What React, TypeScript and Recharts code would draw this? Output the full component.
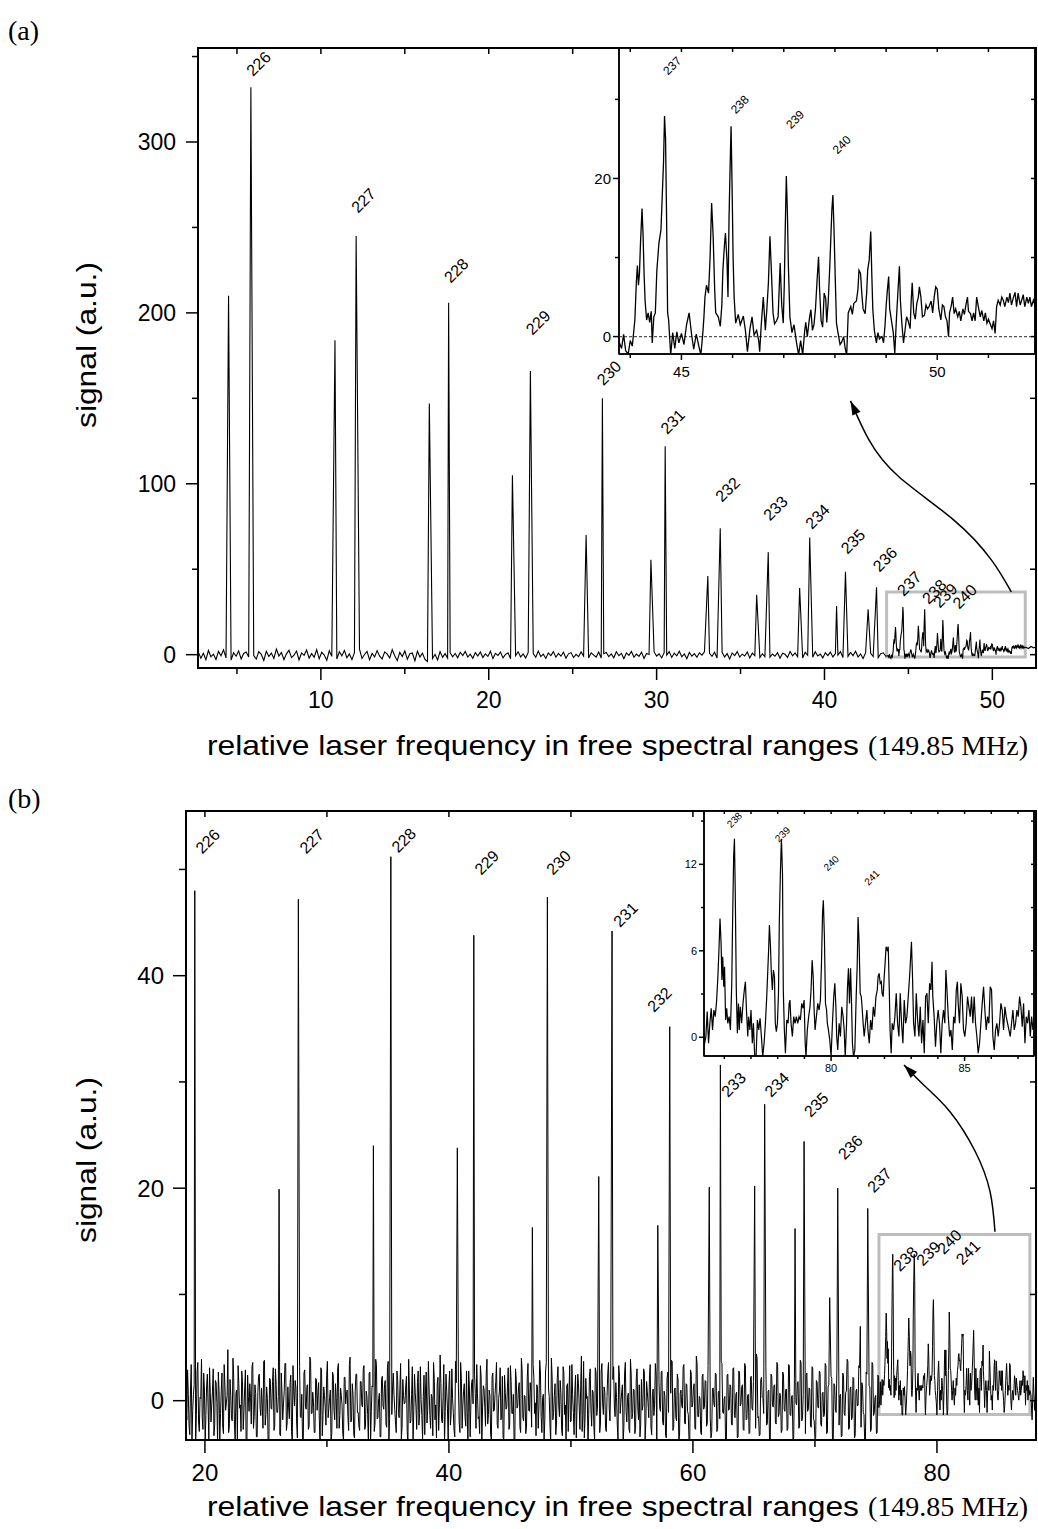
import React from 'react';
import { ComposedChart, Line, XAxis, YAxis, ReferenceArea, ReferenceDot, ReferenceLine } from 'recharts';

const SANS = '"Liberation Sans", Arial, Helvetica, sans-serif';
const SERIF = '"Liberation Serif", "Times New Roman", serif';

// ---------------- panel (a) data ----------------
const aNoiseStart = 2.7;
const aNoiseStep = 0.15;
const aNoise = [
  1.5,-2.1,0.8,-3.0,2.4,-1.2,0.3,-2.8,1.9,-0.6,2.8,-1.9,0.4,-3.2,1.1,-0.9,2.2,-2.5,0.7,1.6,
  -1.4,3.1,-0.5,-2.6,1.8,0.2,-3.4,2.0,-1.1,0.9,-2.2,3.3,-0.8,1.3,-2.9,0.5,2.6,-1.7,-0.3,2.1,
  -3.1,1.0,-0.4,2.7,-2.0,0.6,-1.5,3.0,-2.4,1.4,-0.2,-3.3,2.3,-1.0,0.8,-2.6,1.7,-0.7,2.5,-1.8,
  0.4,-2.9,1.2,-0.5,3.2,-2.2,0.1,1.9,-3.0,0.7,-1.3,2.4,-0.9,-2.5,1.6,0.3,-1.9,2.9,-0.6,-3.5,
  1.3,-1.1,2.2,-2.7,0.5,1.0,-3.6,2.0,-1.4,0.9,-2.8,-4.0,1.5,-2.3,0.2,-3.1,1.8,-1.6,0.6,-2.0,
  1.1,-1.2,0.7,-1.8,1.4,-0.5,1.9,-1.4,0.3,-2.1,1.2,-0.8,1.6,-1.7,0.5,-1.0,2.0,-2.3,0.8,-0.4,
  1.5,-1.9,0.2,1.1,-2.4,0.9,-0.6,1.7,-1.3,0.4,-2.0,1.3,-0.7,0.6,-1.6,2.1,-1.1,0.3,-2.2,1.0,
  -0.5,1.8,-1.5,0.7,-0.9,1.4,-2.1,0.5,1.2,-1.7,0.2,-1.2,1.6,-0.8,0.9,-1.9,1.1,-0.3,-1.4,1.5,
  -2.0,0.6,1.3,-1.1,0.4,-1.8,1.7,-0.6,0.8,-2.3,1.0,-0.4,1.9,-1.5,0.3,-1.0,1.4,-2.2,0.7,0.1,
  -1.3,1.6,-0.8,0.5,-1.9,1.2,-0.2,1.8,-1.6,0.9,-0.7,2.0,-1.2,0.4,-2.4,1.3,-0.9,0.6,-1.5,1.1,
  -0.3,1.7,-1.8,0.8,-1.0,1.5,-2.0,0.2,1.4,-1.3,0.6,-2.5,1.0,-0.5,1.8,-1.4,0.3,-0.8,1.6,-1.9,
  0.9,-0.6,1.3,-1.7,0.5,-1.1,2.2,-1.5,0.4,-0.9,1.2,-2.1,0.8,0.2,-1.6,1.9,-0.7,1.0,-1.2,0.6,
  -2.0,1.4,-0.4,0.9,-1.5,1.7,-0.8,0.3,-1.9,1.1,-0.5,1.5,-1.3,0.7,-0.2,1.8,-1.7,0.5,-1.0,1.3,
  -0.6,2.0,-1.4,0.4,-2.2,1.2,-0.3,0.8,-1.1,1.6,-1.8,0.6,1.1,-0.9,0.2,-1.5,1.9,-0.7,0.9,-1.3,
];
const aPeaks: [number, number][] = [
  [4.50, 210], [5.83, 332], [10.84, 184], [12.10, 245], [16.46, 147], [17.61, 206],
  [21.41, 105], [22.48, 166], [25.80, 70], [26.77, 150], [29.66, 55.5], [30.51, 122],
  [33.05, 46], [33.79, 74], [35.96, 35], [36.65, 60], [38.52, 39], [39.12, 68.5],
  [40.72, 28.5], [41.25, 48.5], [42.60, 26.5], [43.10, 39.5],
];
const aInset: [number, number][] = [
  [43.78,-0.6],[43.83,-1.5],[43.87,0.3],[43.91,-1.8],[43.96,-2.2],[44.00,-0.5],[44.04,-1.2],[44.09,2.1],[44.12,7.0],[44.14,9.0],
  [44.16,6.5],[44.18,8.0],[44.20,11.8],[44.23,16.2],[44.25,12.9],[44.27,8.0],[44.29,4.5],[44.32,2.1],[44.35,3.0],[44.38,1.8],
  [44.41,3.2],[44.43,-0.8],[44.46,2.5],[44.49,3.0],[44.52,8.4],[44.56,11.8],[44.60,13.5],[44.62,16.9],[44.65,22.0],[44.67,27.9],
  [44.69,25.0],[44.71,15.0],[44.73,3.0],[44.75,2.1],[44.79,-2.3],[44.83,0.5],[44.87,-1.5],[44.91,0.6],[44.95,-0.8],[45.00,0.4],
  [45.05,-1.0],[45.10,1.5],[45.15,3.0],[45.20,0.2],[45.24,-1.6],[45.29,0.3],[45.34,-1.2],[45.38,-2.3],[45.42,0.6],[45.44,2.5],
  [45.46,5.0],[45.49,6.5],[45.53,5.5],[45.56,10.0],[45.59,16.9],[45.62,12.7],[45.65,6.0],[45.67,3.0],[45.72,2.5],[45.76,1.3],
  [45.79,4.0],[45.81,8.4],[45.84,11.5],[45.86,13.1],[45.89,9.7],[45.91,5.0],[45.93,14.8],[45.95,21.0],[45.97,26.6],[45.99,19.0],
  [46.01,10.0],[46.03,5.0],[46.06,1.7],[46.11,2.8],[46.15,1.5],[46.21,2.6],[46.25,0.8],[46.29,-1.9],[46.34,1.0],[46.38,2.5],
  [46.42,0.2],[46.47,0.8],[46.51,-0.5],[46.53,-1.9],[46.56,1.5],[46.60,5.0],[46.64,0.8],[46.67,3.5],[46.70,6.8],[46.73,12.7],
  [46.76,8.0],[46.79,3.0],[46.82,1.6],[46.86,2.0],[46.89,2.5],[46.91,6.0],[46.93,9.3],[46.96,4.0],[46.99,1.7],[47.01,6.5],
  [47.03,14.0],[47.05,20.3],[47.07,16.0],[47.09,9.0],[47.12,2.5],[47.16,0.5],[47.20,1.5],[47.25,-0.8],[47.29,-2.3],[47.33,-0.5],
  [47.37,-2.3],[47.41,0.8],[47.43,1.8],[47.46,0.0],[47.50,2.2],[47.53,3.4],[47.56,0.8],[47.59,1.5],[47.62,3.5],[47.65,7.0],
  [47.68,10.1],[47.70,6.0],[47.73,2.0],[47.76,1.2],[47.79,5.5],[47.82,4.8],[47.84,1.8],[47.87,4.5],[47.90,9.0],[47.92,12.5],
  [47.94,16.0],[47.96,17.9],[47.98,14.0],[48.01,6.5],[48.03,1.7],[48.06,0.5],[48.10,-1.0],[48.13,-0.7],[48.17,0.0],[48.20,-1.5],
  [48.23,-2.3],[48.26,3.0],[48.31,3.8],[48.34,2.8],[48.37,4.2],[48.42,4.5],[48.45,6.0],[48.47,8.4],[48.50,8.0],[48.53,5.0],
  [48.55,3.5],[48.59,2.9],[48.62,5.5],[48.64,8.4],[48.67,9.7],[48.70,13.3],[48.72,8.0],[48.74,3.5],[48.77,0.8],[48.81,-0.8],
  [48.84,0.5],[48.87,-0.3],[48.92,0.0],[48.95,-0.8],[48.98,1.5],[49.00,3.8],[49.02,5.5],[49.05,7.6],[49.07,3.5],[49.11,1.8],
  [49.14,0.5],[49.17,-2.1],[49.20,2.0],[49.23,5.5],[49.26,8.9],[49.28,4.5],[49.31,1.5],[49.34,-0.8],[49.37,0.8],[49.40,2.5],
  [49.43,2.0],[49.47,1.0],[49.49,4.5],[49.51,6.8],[49.54,3.0],[49.57,2.2],[49.60,4.2],[49.63,5.0],[49.65,6.3],[49.68,5.0],
  [49.71,2.5],[49.75,2.7],[49.78,4.0],[49.81,3.5],[49.84,3.8],[49.88,4.5],[49.91,3.0],[49.94,5.0],[49.97,6.3],[50.00,6.0],
  [50.03,3.5],[50.07,2.1],[50.10,4.0],[50.13,3.8],[50.16,2.5],[50.19,2.0],[50.22,0.0],[50.24,3.0],[50.27,3.8],[50.30,5.0],
  [50.33,2.9],[50.36,3.5],[50.40,2.5],[50.43,3.2],[50.46,2.0],[50.50,3.5],[50.53,2.8],[50.56,4.0],[50.59,5.0],[50.61,3.2],
  [50.65,2.9],[50.68,2.0],[50.71,3.0],[50.74,2.0],[50.77,5.0],[50.81,3.5],[50.84,2.5],[50.87,3.3],[50.91,2.0],[50.94,3.0],
  [50.97,1.7],[51.00,2.2],[51.04,1.5],[51.07,1.0],[51.10,2.0],[51.13,0.4],[51.16,3.8],[51.19,4.6],[51.23,4.0],[51.26,5.0],
  [51.29,4.6],[51.32,3.8],[51.36,5.0],[51.39,4.3],[51.42,5.5],[51.45,4.0],[51.49,5.0],[51.52,5.6],[51.55,3.8],[51.58,5.5],
  [51.62,4.0],[51.65,4.6],[51.68,5.3],[51.71,3.8],[51.75,5.0],[51.78,4.2],[51.81,5.0],[51.84,3.8],[51.88,4.6],[51.91,4.0],
];
const aTail: [number, number][] = [[52.0, 4.3], [52.15, 3.6], [52.3, 4.8], [52.45, 4.0], [52.6, 4.5]];
const aLabels = [
  { x: 5.96, y: 338, t: '226' }, { x: 12.21, y: 258, t: '227' }, { x: 17.73, y: 217, t: '228' },
  { x: 22.61, y: 186.6, t: '229' }, { x: 26.83, y: 157, t: '230' }, { x: 30.63, y: 128.6, t: '231' },
  { x: 33.90, y: 88.9, t: '232' }, { x: 36.75, y: 77.9, t: '233' }, { x: 39.25, y: 73, t: '234' },
  { x: 41.37, y: 58.4, t: '235' }, { x: 43.27, y: 48, t: '236' }, { x: 44.72, y: 33.8, t: '237' },
  { x: 46.21, y: 29.1, t: '238' }, { x: 46.86, y: 26.8, t: '239' }, { x: 48.03, y: 26.3, t: '240' },
];
const aInsetLabels = [
  { x: 44.74, y: 33.0, t: '237' }, { x: 46.06, y: 28.1, t: '238' },
  { x: 47.14, y: 26.2, t: '239' }, { x: 48.05, y: 23.0, t: '240' },
];
const aArrow = [
  { x: 51.13, y: 36.7 }, { x: 49.94, y: 55.5 }, { x: 47.69, y: 78.9 },
  { x: 44.43, y: 104.1 }, { x: 42.64, y: 125.8 }, { x: 41.55, y: 148.5 },
];
const aBox = { x1: 43.7, x2: 51.96, y1: -1.35, y2: 36.7 };
const aDomX: [number, number] = [2.68, 52.6];
const aDomY: [number, number] = [-7.8, 355];
const aTicksX = [5, 10, 15, 20, 25, 30, 35, 40, 45, 50];
const aMajorX = [10, 20, 30, 40, 50];
const aTicksY = [0, 50, 100, 150, 200, 250, 300, 350];
const aMajorY = [0, 100, 200, 300];
const aInDomX: [number, number] = [43.78, 51.91];
const aInDomY: [number, number] = [-2.2, 36.5];
const aInTicksX = [44, 45, 46, 47, 48, 49, 50, 51];
const aInMajorX = [45, 50];
const aInTicksY = [0, 10, 20, 30];
const aInMajorY = [0, 20];

// ---------------- panel (b) data ----------------
const bNoiseStart = 18.4;
const bNoiseStep = 0.12;
const bNoise = [
  2.1,-1.8,0.6,-3.2,3.4,-0.9,1.5,-4.2,2.8,-2.0,0.3,3.9,-2.7,1.1,-1.4,2.5,-3.6,0.8,-0.4,3.0,-2.3,1.7,-4.0,0.9,
  -1.2,2.6,-3.1,1.4,-0.2,4.8,-2.5,0.5,-1.9,2.2,-3.8,1.0,3.3,-0.7,-2.9,1.8,-1.0,2.9,-4.1,0.4,1.6,-2.2,3.6,-1.5,
  0.7,-3.4,2.3,-0.6,1.2,-2.6,3.8,-1.3,0.2,-4.3,2.0,-0.8,3.1,-2.4,1.5,-1.1,2.7,-3.3,0.6,-0.3,3.5,-2.8,1.3,-1.7,
  2.4,-3.9,0.9,1.9,-2.1,0.1,3.2,-1.6,-3.5,2.6,-0.5,1.4,-2.7,4.1,-1.2,0.8,-3.0,2.1,-0.9,1.7,-4.4,2.9,-1.4,0.5,
  -2.3,3.7,-0.7,1.0,-3.1,2.4,-1.8,0.3,3.0,-2.6,1.2,-0.4,-3.7,2.2,0.6,-1.5,3.4,-2.0,1.6,-3.2,0.9,2.5,-1.1,-2.8,
  1.8,-0.6,3.3,-2.4,0.4,-4.0,2.7,-1.0,1.3,-2.9,3.9,-1.7,0.2,-3.4,2.0,-0.5,1.5,-2.2,3.1,-3.8,0.7,-1.3,2.6,-0.8,
  -3.0,1.9,-1.6,3.5,-2.5,0.5,-0.2,2.3,-4.1,1.1,-1.9,3.2,-0.9,0.8,-2.7,2.8,-1.2,0.1,-3.6,2.4,1.0,-2.1,3.7,-1.4,
  0.6,-3.3,2.1,-0.4,1.6,-2.8,4.3,-1.8,0.3,-3.9,2.5,-0.7,1.4,-2.3,3.0,-1.1,-3.4,1.7,0.4,-2.0,3.6,-2.6,0.9,-1.5,
  2.8,-4.2,1.2,-0.3,2.0,-2.9,0.7,3.4,-1.7,-3.1,2.3,-0.6,1.1,-2.4,3.9,-1.3,0.5,-3.7,2.6,-0.9,1.8,-2.2,0.2,3.1,
  -1.6,-3.5,2.4,-0.8,1.3,-2.7,3.3,-1.2,0.6,-4.0,2.0,-0.5,1.7,-3.0,2.9,-1.9,0.4,-2.5,3.5,-1.0,0.8,-3.3,2.2,-0.2,
  1.5,-2.6,3.8,-1.5,0.3,-3.8,2.7,-0.7,1.2,-2.1,4.0,-1.8,0.5,-3.2,2.1,-0.4,1.9,-2.8,3.2,-1.3,-3.6,1.6,0.7,-2.0,
  3.4,-1.1,0.9,-3.5,2.5,-0.6,1.4,-2.9,3.7,-1.6,0.2,-4.1,2.3,-0.8,1.0,-2.4,3.1,-1.4,0.6,-3.0,2.8,-0.3,1.3,-2.6,
  0.4,3.6,-1.9,-3.4,2.0,-0.5,1.7,-2.3,3.3,-1.2,0.8,-3.9,2.6,-1.0,0.3,-2.7,3.9,-1.7,1.1,-3.1,2.2,-0.6,1.5,-2.2,
  -0.9,3.0,-3.6,1.8,-0.2,2.4,-2.5,0.6,-1.4,3.5,-4.0,1.3,-0.7,2.7,-2.0,0.9,-3.3,2.1,-1.1,0.5,3.8,-2.8,1.0,-1.6,
  2.5,-3.7,0.7,-0.4,3.2,-2.1,1.6,-1.0,-3.8,2.9,-0.6,1.2,-2.6,4.2,-1.5,0.4,-3.0,2.3,-0.8,1.9,-2.4,3.3,-1.3,-3.5,
  1.1,-0.3,2.6,-2.9,0.8,-1.7,3.7,-1.1,0.2,-4.2,2.4,-0.9,1.5,-2.2,3.0,-1.4,0.6,-3.5,2.8,-0.5,1.3,-2.7,3.5,-1.8,
  0.5,-3.1,2.2,-0.7,1.8,-2.5,4.4,-1.6,-3.3,2.0,0.3,-1.2,3.1,-2.3,0.9,-3.9,2.5,-0.4,1.4,-2.0,3.6,-1.5,0.7,-3.0,
  2.7,-0.8,1.0,-2.8,3.4,-1.3,0.4,-3.7,2.1,-0.2,1.7,-2.6,3.8,-1.9,0.6,-3.2,2.4,-1.0,1.2,-2.4,3.2,-1.7,-3.6,1.9,
  -0.6,2.8,-2.2,0.7,-1.5,3.5,-3.1,1.3,-0.3,2.3,-4.0,1.6,-0.9,2.9,-2.1,0.5,-3.4,2.6,-1.2,0.8,3.9,-2.7,1.1,-1.8,
  2.2,-3.5,0.9,-0.5,3.3,-2.4,1.7,-1.1,-3.9,2.7,-0.4,1.4,-2.9,3.6,-1.4,0.3,-3.1,2.4,-0.7,2.0,-2.3,3.0,-1.6,-3.3,
];
const bNoise2Start = 18.46;
const bNoise2 = [
  -0.8,2.9,-2.4,1.1,-3.7,0.6,2.2,-1.3,3.6,-2.9,0.2,-1.6,2.6,-4.0,1.4,-0.5,3.1,-2.0,0.9,-3.3,1.9,-0.2,2.7,-3.8,
  1.0,-2.5,3.4,-0.9,0.5,-3.0,2.0,-1.7,4.0,-2.2,0.7,-3.6,1.6,-0.4,2.8,-2.7,1.2,-4.1,2.4,-1.0,0.3,3.2,-2.6,1.5,
  -3.4,0.8,2.5,-1.4,-0.3,3.7,-2.3,1.3,-3.9,2.1,-0.7,1.8,-2.8,3.0,-1.1,0.4,-3.2,2.6,-1.8,0.9,3.5,-2.1,-0.6,1.7,
  -2.9,3.3,-0.5,1.2,-3.5,2.3,-1.5,0.6,-4.2,2.9,-0.8,1.5,-2.4,3.8,-1.2,-0.2,-3.0,2.0,0.8,-1.9,3.1,-3.3,1.3,-0.6,
  2.4,-1.6,0.3,-3.8,2.7,-0.9,1.6,-2.6,3.5,-1.4,0.5,-3.1,2.2,-0.3,1.0,-2.8,4.1,-1.9,0.6,-3.5,2.5,-1.1,-2.4,1.8,
  -0.4,3.0,-2.7,0.9,-1.3,2.6,-3.9,1.4,0.2,-2.2,3.4,-1.6,0.7,-3.4,2.3,-0.8,1.9,-2.5,3.7,-1.7,-3.1,1.2,0.5,-2.0,
  2.8,-1.2,1.1,-3.6,2.0,-0.3,1.4,-2.9,3.9,-2.1,0.6,-4.0,2.5,-0.6,1.7,-2.3,3.2,-1.4,0.4,-3.2,2.7,-0.9,1.0,-2.6,
  0.3,3.6,-1.8,-3.5,2.2,-0.4,1.6,-2.1,3.4,-1.0,0.9,-3.8,2.8,-1.3,0.2,-2.8,3.7,-1.6,1.2,-3.0,2.1,-0.5,1.6,-2.4,
  -1.1,2.8,-3.4,1.7,-0.3,2.5,-2.6,0.7,-1.5,3.3,-4.1,1.4,-0.6,2.6,-2.2,1.0,-3.2,2.3,-1.0,0.6,3.6,-2.6,0.9,-1.8,
  2.3,-3.6,0.8,-0.6,3.1,-2.3,1.8,-1.2,-3.7,3.0,-0.7,1.1,-2.5,4.0,-1.6,0.5,-3.1,2.2,-0.9,1.7,-2.5,3.4,-1.2,-3.3,
  1.3,-0.5,2.7,-3.0,0.6,-1.8,3.6,-1.0,0.4,-4.0,2.2,-1.1,1.6,-2.1,3.2,-1.5,0.7,-3.3,2.6,-0.4,1.4,-2.9,3.3,-1.9,
  0.6,-3.2,2.4,-0.6,1.6,-2.7,4.2,-1.4,-3.5,2.1,0.4,-1.3,3.0,-2.4,0.8,-3.7,2.6,-0.5,1.3,-2.2,3.5,-1.3,0.8,-2.9,
  2.6,-0.7,1.2,-2.9,3.2,-1.5,0.3,-3.6,2.3,-0.1,1.5,-2.5,3.6,-2.0,0.7,-3.0,2.5,-1.2,1.0,-2.6,3.0,-1.8,-3.4,2.0,
  -0.5,2.7,-2.1,0.9,-1.6,3.4,-3.2,1.1,-0.4,2.4,-3.8,1.7,-1.0,2.8,-2.3,0.4,-3.5,2.7,-1.3,0.7,3.7,-2.5,1.2,-1.9,
  2.0,-3.4,1.0,-0.7,3.4,-2.2,1.5,-1.3,-3.8,2.6,-0.3,1.6,-2.7,3.5,-1.5,0.2,-3.2,2.5,-0.6,1.8,-2.1,3.1,-1.7,-3.0,
  1.2,-0.6,2.5,-2.7,0.9,-1.9,3.5,-1.2,0.4,-4.1,2.5,-0.8,1.3,-2.3,3.1,-1.6,0.8,-3.4,2.6,-0.3,1.5,-2.8,3.3,-1.7,
  0.6,-3.0,2.3,-0.9,1.6,-2.6,4.0,-1.5,-3.2,2.2,0.2,-1.4,3.2,-2.1,1.0,-3.7,2.3,-0.6,1.5,-2.2,3.4,-1.3,0.5,-2.8,
  2.5,-1.0,1.1,-2.6,3.3,-1.4,0.5,-3.5,2.0,-0.4,1.8,-2.4,3.6,-1.7,0.4,-3.1,2.6,-0.8,1.1,-2.5,3.1,-1.9,-3.5,1.7,
  -0.7,2.6,-2.4,0.8,-1.3,3.3,-3.0,1.5,-0.2,2.1,-3.9,1.4,-1.1,2.7,-2.3,0.6,-3.3,2.4,-1.4,0.9,3.7,-2.6,1.3,-1.6,
  2.1,-3.3,1.1,-0.4,3.1,-2.5,1.5,-1.3,-3.7,2.5,-0.6,1.3,-2.7,3.4,-1.2,0.5,-3.0,2.2,-0.8,1.8,-2.4,2.9,-1.5,-3.1,
];
const bPeaks: [number, number][] = [
  [19.17, 48.0], [26.08, 19.9], [27.66, 47.2], [33.81, 24.0], [35.24, 51.2], [40.69, 23.8],
  [42.04, 43.8], [46.84, 16.3], [48.07, 47.4], [52.28, 21.1], [53.37, 44.2], [57.12, 16.5],
  [58.10, 35.2], [61.34, 20.1], [62.25, 31.6], [65.06, 20.2], [65.88, 27.9], [68.37, 16.2],
  [69.11, 24.4], [71.21, 9.7], [71.87, 20.0], [73.72, 7.0], [74.33, 18.1],
];
const bInset: [number, number][] = [
  [75.24,-0.65],[75.31,0.05],[75.36,1.78],[75.41,-0.42],[75.46,0.97],[75.51,2.01],[75.56,0.51],[75.61,1.89],[75.66,1.43],[75.71,2.47],
  [75.76,4.2],[75.80,6.05],[75.84,8.24],[75.88,6.51],[75.91,3.97],[75.94,5.58],[75.98,3.51],[76.01,4.89],[76.05,1.2],[76.09,2.01],
  [76.13,0.97],[76.18,1.43],[76.23,0.51],[76.28,3.74],[76.31,7.89],[76.35,12.5],[76.38,13.78],[76.41,10.2],[76.45,3.28],[76.49,0.28],
  [76.53,2.35],[76.56,0.51],[76.60,2.12],[76.65,0.97],[76.70,2.35],[76.75,3.28],[76.79,3.85],[76.83,1.89],[76.88,0.05],[76.91,1.43],
  [76.96,0.51],[77.00,1.89],[77.05,-0.42],[77.09,0.97],[77.14,-1.34],[77.19,-1.34],[77.24,1.2],[77.29,0.51],[77.34,1.32],[77.39,0.05],
  [77.44,-1.34],[77.49,-0.42],[77.54,0.97],[77.59,2.82],[77.63,4.66],[77.66,6.05],[77.69,7.78],[77.73,6.28],[77.76,4.55],[77.80,3.28],
  [77.84,4.66],[77.88,4.2],[77.91,0.97],[77.95,0.39],[77.99,0.97],[78.03,3.05],[78.06,7.89],[78.10,11.35],[78.14,13.78],[78.18,11.35],
  [78.21,3.28],[78.25,0.51],[78.29,-1.11],[78.34,1.2],[78.39,0.97],[78.43,2.35],[78.46,2.58],[78.50,0.97],[78.55,0.05],[78.60,1.43],
  [78.65,0.97],[78.70,1.43],[78.75,0.97],[78.80,1.43],[78.85,1.2],[78.90,2.35],[78.95,2.01],[78.99,2.58],[79.03,-0.42],[79.06,-1.34],
  [79.11,0.51],[79.16,1.43],[79.21,2.12],[79.25,3.28],[79.29,5.35],[79.33,4.2],[79.36,2.12],[79.40,0.51],[79.45,1.43],[79.50,2.35],
  [79.55,1.89],[79.60,2.58],[79.64,5.12],[79.68,8.59],[79.71,9.51],[79.75,6.97],[79.79,2.35],[79.83,1.89],[79.86,0.97],[79.90,0.51],
  [79.95,-0.18],[80.00,-1.34],[80.05,0.97],[80.10,2.82],[80.14,3.74],[80.18,2.12],[80.21,0.05],[80.25,-0.88],[80.30,0.97],[80.35,0.05],
  [80.40,2.12],[80.45,1.43],[80.49,0.51],[80.53,-1.34],[80.58,0.97],[80.61,3.28],[80.65,4.78],[80.69,2.35],[80.73,4.78],[80.76,2.82],
  [80.80,-0.42],[80.84,-1.34],[80.89,-0.88],[80.94,2.82],[80.98,5.12],[81.01,8.35],[81.05,6.51],[81.09,3.05],[81.13,2.82],[81.16,2.12],
  [81.20,0.97],[81.24,0.05],[81.29,0.97],[81.34,1.89],[81.38,0.51],[81.43,-0.42],[81.48,1.2],[81.53,0.51],[81.58,2.12],[81.63,1.43],
  [81.68,2.82],[81.73,3.28],[81.76,4.2],[81.80,4.43],[81.84,3.74],[81.88,3.85],[81.91,3.05],[81.95,2.82],[81.99,4.2],[82.03,5.35],
  [82.06,6.28],[82.10,6.05],[82.14,6.28],[82.18,3.28],[82.21,0.51],[82.25,-1.11],[82.29,0.97],[82.34,0.51],[82.39,1.43],[82.44,3.05],
  [82.49,0.97],[82.54,0.05],[82.59,3.05],[82.64,0.97],[82.69,-0.42],[82.74,2.58],[82.79,0.97],[82.84,1.43],[82.89,2.82],[82.94,4.2],
  [82.98,5.58],[83.01,6.62],[83.05,4.2],[83.09,0.97],[83.14,0.05],[83.19,3.05],[83.24,1.2],[83.29,0.05],[83.34,2.12],[83.39,-0.42],
  [83.44,1.2],[83.49,-1.11],[83.54,2.82],[83.59,3.05],[83.64,0.97],[83.69,3.74],[83.74,3.28],[83.78,5.24],[83.81,2.82],[83.86,1.43],
  [83.91,-0.65],[83.96,0.97],[84.01,1.89],[84.06,0.97],[84.11,-1.11],[84.16,0.97],[84.21,1.89],[84.26,0.97],[84.30,4.66],[84.34,3.28],
  [84.39,1.43],[84.44,0.05],[84.49,0.51],[84.54,-0.88],[84.59,1.43],[84.64,0.97],[84.69,3.28],[84.73,3.85],[84.76,2.35],[84.81,0.97],
  [84.86,3.74],[84.91,2.82],[84.96,0.51],[85.01,0.05],[85.06,0.97],[85.11,2.82],[85.16,2.12],[85.21,1.43],[85.26,2.82],[85.31,0.97],
  [85.36,2.82],[85.41,0.97],[85.46,0.05],[85.51,-1.11],[85.56,-0.42],[85.61,0.97],[85.66,2.35],[85.71,3.51],[85.76,1.89],[85.81,0.51],
  [85.86,1.43],[85.91,0.97],[85.96,3.51],[86.01,3.28],[86.06,0.05],[86.11,-0.88],[86.16,0.51],[86.21,0.97],[86.26,0.05],[86.31,0.97],
  [86.36,2.35],[86.41,1.89],[86.46,0.51],[86.51,2.12],[86.56,1.43],[86.61,0.97],[86.66,0.51],[86.71,0.05],[86.76,0.97],[86.81,1.89],
  [86.86,0.51],[86.91,0.97],[86.96,1.89],[87.01,1.43],[87.06,2.82],[87.11,2.12],[87.16,0.74],[87.21,2.35],[87.26,-0.42],[87.31,1.43],
  [87.36,0.97],[87.41,1.89],[87.46,0.05],[87.51,1.43],[87.56,0.51],[87.61,0.97],
];
const bTail: [number, number][] = [[87.7, 0.6], [87.8, -1.8], [87.9, 2.2], [88.0, -0.9], [88.12, 1.4]];
const bLabels = [
  { x: 19.78, y: 51.4, t: '226' }, { x: 28.30, y: 51.4, t: '227' }, { x: 35.84, y: 51.5, t: '228' },
  { x: 42.64, y: 49.4, t: '229' }, { x: 48.54, y: 49.4, t: '230' }, { x: 54.03, y: 44.5, t: '231' },
  { x: 56.81, y: 36.5, t: '232' }, { x: 62.88, y: 28.5, t: '233' }, { x: 66.43, y: 28.5, t: '234' },
  { x: 69.65, y: 26.6, t: '235' }, { x: 72.45, y: 22.6, t: '236' }, { x: 74.84, y: 19.5, t: '237' },
  { x: 76.98, y: 12.1, t: '238' }, { x: 78.86, y: 12.6, t: '239' }, { x: 80.58, y: 13.7, t: '240' },
  { x: 82.09, y: 12.7, t: '241' },
];
const bInsetLabels = [
  { x: 76.25, y: 14.5, t: '238' }, { x: 78.05, y: 13.5, t: '239' },
  { x: 79.88, y: 11.5, t: '240' }, { x: 81.40, y: 10.5, t: '241' },
];
const bArrow = [
  { x: 84.76, y: 15.9 }, { x: 84.35, y: 19.7 }, { x: 83.12, y: 23.5 },
  { x: 81.07, y: 27.2 }, { x: 79.02, y: 29.6 }, { x: 77.3, y: 31.6 },
];
const bBox = { x1: 75.25, x2: 87.62, y1: -1.3, y2: 15.65 };
const bDomX: [number, number] = [18.45, 88.12];
const bDomY: [number, number] = [-3.7, 55.5];
const bTicksX = [20, 30, 40, 50, 60, 70, 80];
const bMajorX = [20, 40, 60, 80];
const bTicksY = [0, 10, 20, 30, 40, 50];
const bMajorY = [0, 20, 40];
const bInDomX: [number, number] = [75.24, 87.6];
const bInDomY: [number, number] = [-1.3, 15.7];
const bInTicksX = [76, 77, 78, 79, 80, 81, 82, 83, 84, 85, 86, 87];
const bInMajorX = [80, 85];
const bInTicksY = [0, 3, 6, 9, 12, 15];
const bInMajorY = [0, 6, 12];

// ---------------- helpers ----------------
type P = { x: number; y: number };
type NoiseSet = { start: number; step: number; values: number[] };
function buildSeries(sets: NoiseSet[], cutoff: number, peaks: [number, number][], extra: [number, number][]): P[] {
  const pts: P[] = [];
  sets.forEach((s) => {
    s.values.forEach((v, i) => {
      const x = s.start + i * s.step;
      if (x >= cutoff) return;
      if (peaks.some(([px]) => Math.abs(px - x) < 0.05)) return;
      pts.push({ x, y: v });
    });
  });
  peaks.forEach(([x, y]) => pts.push({ x, y }));
  extra.forEach(([x, y]) => pts.push({ x, y }));
  return pts.sort((p, q) => p.x - q.x);
}
const toPts = (arr: [number, number][]): P[] => arr.map(([x, y]) => ({ x, y }));

const aSeries = buildSeries([{ start: aNoiseStart, step: aNoiseStep, values: aNoise }], aInDomX[0], aPeaks, [...aInset, ...aTail]);
const aInsetSeries = toPts(aInset);
const bSeries = buildSeries(
  [{ start: bNoiseStart, step: bNoiseStep, values: bNoise }, { start: bNoise2Start, step: bNoiseStep, values: bNoise2 }],
  bInDomX[0], bPeaks, [...bInset, ...bTail]);
const bInsetSeries = toPts(bInset);

type TickCfg = {
  side: 'bottom' | 'top' | 'left' | 'right';
  majors: number[]; majorLen: number; minorLen: number;
  fontSize?: number; gap?: number; sw?: number;
};
function makeTick(c: TickCfg) {
  return (props: any) => {
    const { x, y, payload } = props;
    const v = payload ? payload.value : 0;
    const major = c.majors.includes(v);
    const len = major ? c.majorLen : c.minorLen;
    const sw = c.sw ?? 1.5;
    const showLabel = major && !!c.fontSize;
    if (c.side === 'bottom') {
      return (
        <g>
          <line x1={x} y1={y} x2={x} y2={y + len} stroke="#000" strokeWidth={sw} />
          {showLabel && (
            <text x={x} y={y + (c.gap || 0)} textAnchor="middle" fontSize={c.fontSize} fontFamily={SANS} fill="#000">{v}</text>
          )}
        </g>
      );
    }
    if (c.side === 'top') {
      return <line x1={x} y1={y} x2={x} y2={y + len} stroke="#000" strokeWidth={sw} />;
    }
    if (c.side === 'left') {
      return (
        <g>
          <line x1={x} y1={y} x2={x - len} y2={y} stroke="#000" strokeWidth={sw} />
          {showLabel && (
            <text x={x - (c.gap || 0)} y={y} textAnchor="end" dominantBaseline="central" fontSize={c.fontSize} fontFamily={SANS} fill="#000">{v}</text>
          )}
        </g>
      );
    }
    return <line x1={x} y1={y} x2={x - len} y2={y} stroke="#000" strokeWidth={sw} />;
  };
}

const rotLabel = (text: string, size: number) => (p: any) => (
  <text x={p.cx} y={p.cy} transform={`rotate(-45 ${p.cx} ${p.cy})`} fontSize={size} fontFamily={SANS} fill="#000">{text}</text>
);

const arrowHead = (lastIndex: number) => (p: any) => {
  if (p.index !== lastIndex) return <g key={`d${p.index}`} />;
  let ang = -110;
  const pts = p.points;
  if (pts && pts.length > 1) {
    const a = pts[pts.length - 2];
    ang = (Math.atan2(p.cy - a.y, p.cx - a.x) * 180) / Math.PI;
  }
  return (
    <polygon key="head" points="0,0 -14,-4.5 -14,4.5" transform={`translate(${p.cx},${p.cy}) rotate(${ang})`} fill="#000" />
  );
};

interface PanelProps {
  width: number; height: number; margin: any; yWidth: number; xHeight: number;
  domX: [number, number]; domY: [number, number];
  ticksX: number[]; majorX: number[]; ticksY: number[]; majorY: number[];
  font: number; gapX: number; gapY: number;
  lenMajor: number; lenMinor: number; innerLen: number; frame: number;
}

function axes(p: PanelProps) {
  return [
    <XAxis key="xb" xAxisId="b" dataKey="x" type="number" domain={p.domX} allowDataOverflow ticks={p.ticksX} interval={0}
      tickSize={0} tickMargin={0} tickLine={false} height={p.xHeight}
      axisLine={{ stroke: '#000', strokeWidth: p.frame }}
      tick={makeTick({ side: 'bottom', majors: p.majorX, majorLen: p.lenMajor, minorLen: p.lenMinor, fontSize: p.font, gap: p.gapX })} />,
    <XAxis key="xt" xAxisId="t" orientation="top" dataKey="x" type="number" domain={p.domX} allowDataOverflow ticks={p.ticksX} interval={0}
      tickSize={0} tickMargin={0} tickLine={false} height={1}
      axisLine={{ stroke: '#000', strokeWidth: p.frame }}
      tick={makeTick({ side: 'top', majors: p.ticksX, majorLen: p.innerLen, minorLen: p.innerLen })} />,
    <YAxis key="yl" yAxisId="l" type="number" domain={p.domY} allowDataOverflow ticks={p.ticksY} interval={0}
      tickSize={0} tickMargin={0} tickLine={false} width={p.yWidth}
      axisLine={{ stroke: '#000', strokeWidth: p.frame }}
      tick={makeTick({ side: 'left', majors: p.majorY, majorLen: p.lenMajor, minorLen: p.lenMinor, fontSize: p.font, gap: p.gapY })} />,
    <YAxis key="yr" yAxisId="r" orientation="right" type="number" domain={p.domY} allowDataOverflow ticks={p.ticksY} interval={0}
      tickSize={0} tickMargin={0} tickLine={false} width={1}
      axisLine={{ stroke: '#000', strokeWidth: p.frame }}
      tick={makeTick({ side: 'right', majors: p.ticksY, majorLen: p.innerLen, minorLen: p.innerLen })} />,
    <Line key="ghost" xAxisId="t" yAxisId="r" data={[{ x: p.domX[0], y: p.domY[0] }, { x: p.domX[1], y: p.domY[1] }]}
      dataKey="y" stroke="none" dot={false} isAnimationActive={false} legendType="none" />,
  ];
}

function frame(p: PanelProps) {
  return (
    <ReferenceArea xAxisId="b" yAxisId="l" x1={p.domX[0]} x2={p.domX[1]} y1={p.domY[0]} y2={p.domY[1]}
      fill="none" fillOpacity={0} stroke="#000" strokeWidth={p.frame} ifOverflow="visible" />
  );
}

export default function App() {
  const mainA: PanelProps = {
    width: 1038, height: 780, margin: { top: 47, right: 1, bottom: 0, left: 0 }, yWidth: 198, xHeight: 112,
    domX: aDomX, domY: aDomY, ticksX: aTicksX, majorX: aMajorX, ticksY: aTicksY, majorY: aMajorY,
    font: 23, gapX: 40, gapY: 22, lenMajor: 12, lenMinor: 6, innerLen: 6, frame: 2,
  };
  const insetA: PanelProps = {
    width: 478, height: 360, margin: { top: 17, right: 2, bottom: 0, left: 0 }, yWidth: 59, xHeight: 36,
    domX: aInDomX, domY: aInDomY, ticksX: aInTicksX, majorX: aInMajorX, ticksY: aInTicksY, majorY: aInMajorY,
    font: 15, gapX: 23, gapY: 8, lenMajor: 6, lenMinor: 4, innerLen: 4, frame: 1.5,
  };
  const mainB: PanelProps = {
    width: 1038, height: 759, margin: { top: 40, right: 1, bottom: 0, left: 0 }, yWidth: 186, xHeight: 89,
    domX: bDomX, domY: bDomY, ticksX: bTicksX, majorX: bMajorX, ticksY: bTicksY, majorY: bMajorY,
    font: 24, gapX: 41, gapY: 22, lenMajor: 13, lenMinor: 7, innerLen: 6, frame: 2,
  };
  const insetB: PanelProps = {
    width: 378, height: 290, margin: { top: 15, right: 3, bottom: 0, left: 0 }, yWidth: 44, xHeight: 29,
    domX: bInDomX, domY: bInDomY, ticksX: bInTicksX, majorX: bInMajorX, ticksY: bInTicksY, majorY: bInMajorY,
    font: 11, gapX: 16, gapY: 7, lenMajor: 5, lenMinor: 3, innerLen: 3, frame: 1.5,
  };

  return (
    <div style={{ position: 'absolute', left: 0, top: 0, width: 1038, height: 1529, background: '#fff', overflow: 'hidden' }}>
      {/* panel (a) main */}
      <div style={{ position: 'absolute', left: 0, top: 0 }}>
        <ComposedChart width={mainA.width} height={mainA.height} margin={mainA.margin}>
          {axes(mainA)}
          <ReferenceArea xAxisId="b" yAxisId="l" x1={aBox.x1} x2={aBox.x2} y1={aBox.y1} y2={aBox.y2}
            fill="none" fillOpacity={0} stroke="#bdbdbd" strokeWidth={3} ifOverflow="visible" />
          <Line xAxisId="b" yAxisId="l" data={aSeries} dataKey="y" type="linear" stroke="#000" strokeWidth={1.1}
            dot={false} isAnimationActive={false} />
          <Line xAxisId="b" yAxisId="l" data={aArrow} dataKey="y" type="natural" stroke="#000" strokeWidth={1.5}
            dot={arrowHead(aArrow.length - 1)} isAnimationActive={false} />
          {aLabels.map((l) => (
            <ReferenceDot key={l.t} xAxisId="b" yAxisId="l" x={l.x} y={l.y} r={0} shape={rotLabel(l.t, 16)} ifOverflow="visible" />
          ))}
          {frame(mainA)}
        </ComposedChart>
      </div>
      {/* panel (a) inset */}
      <div style={{ position: 'absolute', left: 560, top: 30 }}>
        <ComposedChart width={insetA.width} height={insetA.height} margin={insetA.margin}>
          {axes(insetA)}
          <ReferenceArea xAxisId="b" yAxisId="l" x1={aInDomX[0]} x2={aInDomX[1]} y1={aInDomY[0]} y2={aInDomY[1]}
            fill="#fff" fillOpacity={1} stroke="none" />
          <ReferenceLine xAxisId="b" yAxisId="l" y={0} stroke="#555" strokeWidth={1.2} strokeDasharray="3 2" />
          <Line xAxisId="b" yAxisId="l" data={aInsetSeries} dataKey="y" type="linear" stroke="#000" strokeWidth={1.3}
            dot={false} isAnimationActive={false} />
          {aInsetLabels.map((l) => (
            <ReferenceDot key={l.t} xAxisId="b" yAxisId="l" x={l.x} y={l.y} r={0} shape={rotLabel(l.t, 12)} ifOverflow="visible" />
          ))}
          {frame(insetA)}
        </ComposedChart>
      </div>
      {/* panel (b) main */}
      <div style={{ position: 'absolute', left: 0, top: 770 }}>
        <ComposedChart width={mainB.width} height={mainB.height} margin={mainB.margin}>
          {axes(mainB)}
          <ReferenceArea xAxisId="b" yAxisId="l" x1={bBox.x1} x2={bBox.x2} y1={bBox.y1} y2={bBox.y2}
            fill="none" fillOpacity={0} stroke="#bdbdbd" strokeWidth={3} ifOverflow="visible" />
          <Line xAxisId="b" yAxisId="l" data={bSeries} dataKey="y" type="linear" stroke="#000" strokeWidth={1}
            dot={false} isAnimationActive={false} />
          <Line xAxisId="b" yAxisId="l" data={bArrow} dataKey="y" type="natural" stroke="#000" strokeWidth={1.5}
            dot={arrowHead(bArrow.length - 1)} isAnimationActive={false} />
          {bLabels.map((l) => (
            <ReferenceDot key={l.t} xAxisId="b" yAxisId="l" x={l.x} y={l.y} r={0} shape={rotLabel(l.t, 16)} ifOverflow="visible" />
          ))}
          {frame(mainB)}
        </ComposedChart>
      </div>
      {/* panel (b) inset */}
      <div style={{ position: 'absolute', left: 660, top: 795 }}>
        <ComposedChart width={insetB.width} height={insetB.height} margin={insetB.margin}>
          {axes(insetB)}
          <ReferenceArea xAxisId="b" yAxisId="l" x1={bInDomX[0]} x2={bInDomX[1]} y1={bInDomY[0]} y2={bInDomY[1]}
            fill="#fff" fillOpacity={1} stroke="none" />
          <Line xAxisId="b" yAxisId="l" data={bInsetSeries} dataKey="y" type="linear" stroke="#000" strokeWidth={1.2}
            dot={false} isAnimationActive={false} />
          {bInsetLabels.map((l) => (
            <ReferenceDot key={l.t} xAxisId="b" yAxisId="l" x={l.x} y={l.y} r={0} shape={rotLabel(l.t, 10)} ifOverflow="visible" />
          ))}
          {frame(insetB)}
        </ComposedChart>
      </div>
      {/* titles */}
      <svg width={1038} height={1529} style={{ position: 'absolute', left: 0, top: 0, pointerEvents: 'none' }}>
        <text x={8} y={40} fontFamily={SERIF} fontSize={28} fill="#000">(a)</text>
        <text x={8} y={808} fontFamily={SERIF} fontSize={28} fill="#000">(b)</text>
        <text x={207} y={755} fontFamily={SANS} fontSize={28} fill="#000" textLength={652} lengthAdjust="spacingAndGlyphs">relative laser frequency in free spectral ranges</text>
        <text x={1028} y={755} fontFamily={SERIF} fontSize={27} fill="#000" textAnchor="end" textLength={160} lengthAdjust="spacingAndGlyphs">(149.85 MHz)</text>
        <text x={207} y={1516} fontFamily={SANS} fontSize={28} fill="#000" textLength={652} lengthAdjust="spacingAndGlyphs">relative laser frequency in free spectral ranges</text>
        <text x={1028} y={1516} fontFamily={SERIF} fontSize={27} fill="#000" textAnchor="end" textLength={160} lengthAdjust="spacingAndGlyphs">(149.85 MHz)</text>
        <text x={96} y={345} fontFamily={SANS} fontSize={28} fill="#000" textAnchor="middle" transform="rotate(-90 96 345)" textLength={166} lengthAdjust="spacingAndGlyphs">signal (a.u.)</text>
        <text x={96} y={1160} fontFamily={SANS} fontSize={28} fill="#000" textAnchor="middle" transform="rotate(-90 96 1160)" textLength={166} lengthAdjust="spacingAndGlyphs">signal (a.u.)</text>
      </svg>
    </div>
  );
}
